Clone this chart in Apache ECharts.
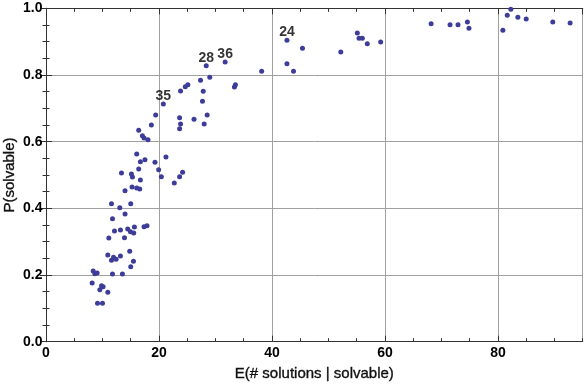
<!DOCTYPE html>
<html><head><meta charset="utf-8">
<script src="https://cdn.jsdelivr.net/npm/echarts@6/dist/echarts.min.js"></script>
<style>html,body{margin:0;padding:0;background:#fff}#c{width:584px;height:384px}</style>
</head><body><div id="c"></div>
<script>
const xValues = [
  9.12,10.0,8.17,9.83,10.11,9.53,10.94,8.35,8.65,9.05,
  11.77,13.53,15.0,14.82,15.48,10.94,13.18,11.95,11.59,12.41,
  11.12,13.89,12.12,13.18,14.47,14.95,15.53,15.65,17.35,17.88,
  11.77,13.99,11.59,13.06,15.0,13.99,15.23,16.06,16.59,16.71,
  22.71,13.36,15.12,15.30,16.41,19.94,20.42,24.18,23.65,16.06,
  17.52,16.71,19.29,21.23,16.41,17.06,17.35,18.05,18.65,19.41,
  20.77,23.65,23.82,23.65,26.2,28.53,28.0,27.7,27.83,23.82,
  24.65,25.11,27.35,28.99,28.36,31.71,33.53,33.35,38.17,42.65,
  42.65,43.81,45.40,52.18,55.11,55.41,55.99,56.87,59.24,68.17,
  71.52,72.93,74.59,74.87,80.87,81.65,82.28,83.52,85.0,89.7,92.77
];
const yValues = [
  0.115,0.115,0.176,0.168,0.165,0.156,0.148,0.212,0.204,0.206,
  0.203,0.203,0.225,0.271,0.241,0.260,0.257,0.253,0.244,0.247,
  0.311,0.312,0.332,0.335,0.338,0.330,0.326,0.344,0.345,0.348,
  0.369,0.383,0.414,0.402,0.414,0.453,0.464,0.461,0.458,0.485,
  0.476,0.506,0.503,0.494,0.518,0.516,0.495,0.508,0.495,0.563,
  0.546,0.540,0.538,0.554,0.634,0.618,0.611,0.606,0.650,0.680,
  0.713,0.639,0.653,0.672,0.667,0.680,0.653,0.721,0.751,0.752,
  0.765,0.771,0.784,0.793,0.828,0.839,0.771,0.764,0.811,0.904,
  0.834,0.811,0.880,0.869,0.926,0.910,0.910,0.894,0.899,0.954,
  0.951,0.951,0.959,0.940,0.934,0.979,0.997,0.973,0.968,0.959,0.956
];
const annotationX = [20.77, 28.36, 31.71, 42.65];
const annotationY = [0.713, 0.828, 0.839, 0.904];
const annotationText = ['35', '28', '36', '24'];
const xTickLabels = ['0', '20', '40', '60', '80'];
const yTickLabels = ['0.0', '0.2', '0.4', '0.6', '0.8', '1.0'];
const xName = 'E(# solutions | solvable)';
const yName = 'P(solvable)';

const FONT = '"Liberation Sans", Arial, sans-serif';
const frameColor = '#333';
const gridColor = '#a0a0a0';
const pointColor = '#3d3d99';

const scatterData = xValues.map((x, i) => [x, yValues[i]]);
const annData = annotationX.map((x, i) => [x, annotationY[i], annotationText[i]]);

function xLab(v) {
  const s = String(Math.round(v));
  return (Math.abs(v % 20) < 1e-9 && xTickLabels.indexOf(s) >= 0) ? s : '';
}
function yLab(v) {
  const s = v.toFixed(1);
  return yTickLabels.indexOf(s) >= 0 ? s : '';
}

const nameStyle = { fontFamily: FONT, fontSize: 15, color: '#111',
  textBorderColor: '#111', textBorderWidth: 0.35 };
const tickLabelStyle = { fontFamily: FONT, fontSize: 14, fontWeight: 'bold', color: '#000' };

const baseX = {
  type: 'value', min: 0, max: 95,
  axisLine: { show: true, lineStyle: { color: frameColor, width: 1 } },
  splitLine: { show: false }
};

const chart = echarts.init(document.getElementById('c'), null, { renderer: 'canvas' });
chart.setOption({
  animation: false,
  backgroundColor: '#fff',
  grid: { left: 46, right: 1.3, top: 8.3, bottom: 42.3, containLabel: false, outerBoundsMode: 'none' },
  xAxis: [
    Object.assign({}, baseX, {
      position: 'bottom', interval: 20,
      axisTick: { show: true, inside: true, length: 6, lineStyle: { color: frameColor } },
      axisLabel: Object.assign({ show: true, formatter: xLab, showMaxLabel: false, margin: 4 }, tickLabelStyle),
      splitLine: { show: true, lineStyle: { color: gridColor, width: 1 } },
      name: xName, nameLocation: 'middle', nameGap: 25, nameMoveOverlap: false,
      nameTextStyle: nameStyle
    }),
    Object.assign({}, baseX, {
      position: 'bottom', interval: 5,
      axisTick: { show: true, inside: true, length: 3.5, lineStyle: { color: frameColor } },
      axisLabel: { show: false }
    }),
    Object.assign({}, baseX, {
      position: 'top', interval: 20,
      axisTick: { show: true, inside: true, length: 6, lineStyle: { color: frameColor } },
      axisLabel: { show: false }
    }),
    Object.assign({}, baseX, {
      position: 'top', interval: 5,
      axisTick: { show: true, inside: true, length: 3.5, lineStyle: { color: frameColor } },
      axisLabel: { show: false }
    })
  ],
  yAxis: [
    {
      type: 'value', min: 0, max: 1, interval: 0.2, position: 'left',
      axisLine: { show: true, lineStyle: { color: frameColor, width: 1 } },
      axisTick: { show: true, inside: true, length: 6, lineStyle: { color: frameColor } },
      minorTick: { show: true, splitNumber: 4, length: 3.5, lineStyle: { color: frameColor } },
      axisLabel: Object.assign({ show: true, formatter: yLab, margin: 3.5 }, tickLabelStyle),
      splitLine: { show: true, lineStyle: { color: gridColor, width: 1 } },
      name: yName, nameLocation: 'middle', nameGap: 29, nameRotate: 90, nameMoveOverlap: false,
      nameTextStyle: nameStyle
    },
    {
      type: 'value', min: 0, max: 1, interval: 0.2, position: 'right',
      axisLine: { show: true, lineStyle: { color: frameColor, width: 1 } },
      axisTick: { show: true, inside: true, length: 6, lineStyle: { color: frameColor } },
      minorTick: { show: true, splitNumber: 4, length: 3.5, lineStyle: { color: frameColor } },
      axisLabel: { show: false },
      splitLine: { show: false }
    }
  ],
  series: [
    {
      type: 'scatter', xAxisIndex: 0, yAxisIndex: 0,
      data: scatterData, symbol: 'circle', symbolSize: 5,
      itemStyle: { color: pointColor, opacity: 1 },
      silent: true, clip: false
    },
    {
      type: 'scatter', xAxisIndex: 0, yAxisIndex: 0,
      data: annData, symbolSize: 0, silent: true,
      label: { show: true, position: 'top', distance: 1,
        formatter: p => p.value[2],
        fontFamily: FONT, fontSize: 14, fontWeight: 'bold', color: '#000' }
    }
  ]
});
</script></body></html>
